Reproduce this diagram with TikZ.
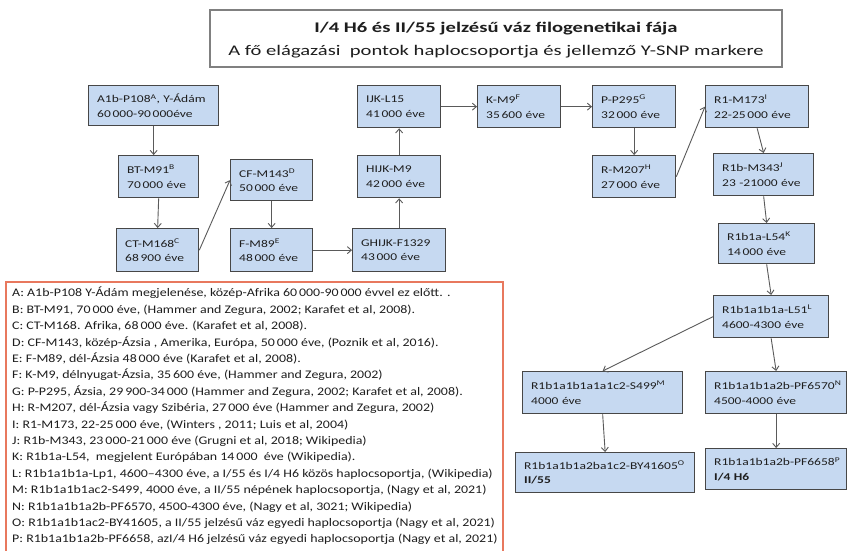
\documentclass[tikz,border=0pt]{standalone}
\usepackage{fontspec}
\setmainfont{Carlito}[FakeStretch=1.2]
\newfontfamily\boxfont{Carlito}[FakeStretch=1.3]
\newfontfamily\titlefont{Carlito}[FakeStretch=1.4]
\usetikzlibrary{arrows.meta}
\definecolor{boxfill}{HTML}{C6D9F1}
\definecolor{boxline}{HTML}{474747}
\definecolor{arrowc}{HTML}{5A5A5A}
\definecolor{legendline}{HTML}{E8785E}
\definecolor{titleline}{HTML}{808080}
\definecolor{txt}{HTML}{1E1E1E}
\tikzset{
  box/.style={draw=boxline, line width=1.3pt, fill=boxfill, anchor=north west,
    inner xsep=0pt, inner ysep=0pt, align=left, text=txt,
    font=\boxfont\fontsize{10.4}{14.5}\selectfont},
  conn/.style={draw=arrowc, line width=0.9pt, -{Straight Barb[length=4pt,width=7pt]}},
  titlebox/.style={draw=titleline, line width=1.3pt, fill=white},
  titletext/.style={align=center, text=txt, inner sep=0pt,
    font=\titlefont\fontsize{14.7}{23}\selectfont},
  legendtext/.style={align=left, inner sep=0pt, text=txt, anchor=north west,
    font=\fontsize{11.6}{16.4}\selectfont}
}
\newcommand\bx[7]{\node[box, text width=#4pt, minimum height=#5pt] (#1) at (#2,#3) {\hspace*{8.5pt}\mbox{#6}\\\hspace*{8.5pt}\mbox{#7}};}
\begin{document}
\begin{tikzpicture}[x=1pt,y=-1pt]
\useasboundingbox (0,0) rectangle (848,550);
\clip (0,0) rectangle (848,550);
\fill[white] (0,0) rectangle (848,550);
% title
\node[titlebox, minimum width=572pt, minimum height=57pt] (title) at (496,38.5) {};
\node[titletext] (titletext) at (496,40)
  {\textbf{I/4 H6 és II/55 jelzésű váz filogenetikai fája}\\
   A fő elágazási\ \ pontok haplocsoportja és jellemző Y-SNP markere};
% boxes
\bx{A}{88}{85}{130}{40}{A1b-P108\textsuperscript{A}, Y-Ádám}{60\,000-90\,000éve}
\bx{BT}{118}{155}{80}{42}{BT-M91\textsuperscript{B}}{70\,000 éve}
\bx{CT}{116}{228}{82}{43}{CT-M168\textsuperscript{C}}{68\,900 éve}
\bx{CF}{230}{159}{82}{41}{CF-M143\textsuperscript{D}}{50\,000 éve}
\bx{F}{230}{228}{82}{43}{F-M89\textsuperscript{E}}{48\,000 éve}
\bx{GH}{352}{228}{93}{43}{GHIJK-F1329}{43\,000 éve}
\bx{HI}{357}{155}{83}{42}{HIJK-M9}{42\,000 éve}
\bx{IJ}{357}{85}{83}{42}{IJK-L15}{41\,000 éve}
\bx{K}{477}{85}{83}{42}{K-M9\textsuperscript{F}}{35\,600 éve}
\bx{P}{592}{85}{83}{42}{P-P295\textsuperscript{G}}{32\,000 éve}
\bx{RM}{592}{155}{83}{42}{R-M207\textsuperscript{H}}{27\,000 éve}
\bx{R1}{705}{85}{103}{42}{R1-M173\textsuperscript{I}}{22-25\,000 éve}
\bx{R1b}{713}{153}{100}{42}{R1b-M343\textsuperscript{J}}{23 -21000 éve}
\bx{L54}{718}{223}{96}{40}{R1b1a-L54\textsuperscript{K}}{14\,000 éve}
\bx{L51}{713}{295}{115}{42}{R1b1a1b1a-L51\textsuperscript{L}}{4600-4300 éve}
\bx{M}{522}{371}{160}{42}{R1b1a1b1a1a1c2-S499\textsuperscript{M}}{4000 éve}
\bx{N}{705}{371}{141}{42}{R1b1a1b1a2b-PF6570\textsuperscript{N}}{4500-4000 éve}
\bx{O}{515}{452}{179}{40}{R1b1a1b1a2ba1c2-BY41605\textsuperscript{O}}{\textbf{II/55}}
\bx{PP}{705}{448}{141}{41}{R1b1a1b1a2b-PF6658\textsuperscript{P}}{\textbf{I/4 H6}}
% connectors
\draw[conn] (A.south) -- (A.south |- BT.north);
\draw[conn] (BT.south) -- (CT.north);
\draw[conn] (CT.east) -- (CF.west);
\draw[conn] (CF.south) -- (F.north);
\draw[conn] (F.east) -- (F.east -| GH.west);
\draw[conn] (GH.north) -- (HI.south);
\draw[conn] (HI.north) -- (IJ.south);
\draw[conn] (IJ.east) -- (K.west);
\draw[conn] (K.east) -- (P.west);
\draw[conn] (P.south) -- (RM.north);
\draw[conn] (RM.east) -- (R1.west);
\draw[conn] (R1.south) -- (R1b.north);
\draw[conn] (R1b.south) -- (L54.north);
\draw[conn] (L54.south) -- (L51.north);
\draw[conn] (L51.west) -- (M.north);
\draw[conn] (L51.south) -- (N.north);
\draw[conn] (M.south) -- (O.north);
\draw[conn] (N.south) -- (N.south |- PP.north);
% legend
\draw[legendline, line width=1.6pt] (6,282) rectangle (503,560);
\node[legendtext] (legend) at (12,287) {%
A: A1b-P108 Y-Ádám megjelenése, közép-Afrika 60\,000-90\,000 évvel ez előtt. .\\
B: BT-M91, 70\,000 éve, (Hammer and Zegura, 2002; Karafet et al, 2008).\\
C: CT-M168. Afrika, 68\,000 éve. (Karafet et al, 2008).\\
D: CF-M143, közép-Ázsia , Amerika, Európa, 50\,000 éve, (Poznik et al, 2016).\\
E: F-M89, dél-Ázsia 48\,000 éve (Karafet et al, 2008).\\
F: K-M9, délnyugat-Ázsia, 35\,600 éve, (Hammer and Zegura, 2002)\\
G: P-P295, Ázsia, 29\,900-34\,000 (Hammer and Zegura, 2002; Karafet et al, 2008).\\
H: R-M207, dél-Ázsia vagy Szibéria, 27\,000 éve (Hammer and Zegura, 2002)\\
I: R1-M173, 22-25\,000 éve, (Winters , 2011; Luis et al, 2004)\\
J: R1b-M343, 23\,000-21\,000 éve (Grugni et al, 2018; Wikipedia)\\
K: R1b1a-L54,\ \ megjelent Európában 14\,000\ \ éve (Wikipedia).\\
L: R1b1a1b1a-Lp1, 4600–4300 éve, a I/55 és I/4 H6 közös haplocsoportja, (Wikipedia)\\
M: R1b1a1b1ac2-S499, 4000 éve, a II/55 népének haplocsoportja, (Nagy et al, 2021)\\
N: R1b1a1b1a2b-PF6570, 4500-4300 éve, (Nagy et al, 3021; Wikipedia)\\
O: R1b1a1b1ac2-BY41605, a II/55 jelzésű váz egyedi haplocsoportja (Nagy et al, 2021)\\
P: R1b1a1b1a2b-PF6658, azI/4 H6 jelzésű váz egyedi haplocsoportja (Nagy et al, 2021)};
\end{tikzpicture}
\end{document}
